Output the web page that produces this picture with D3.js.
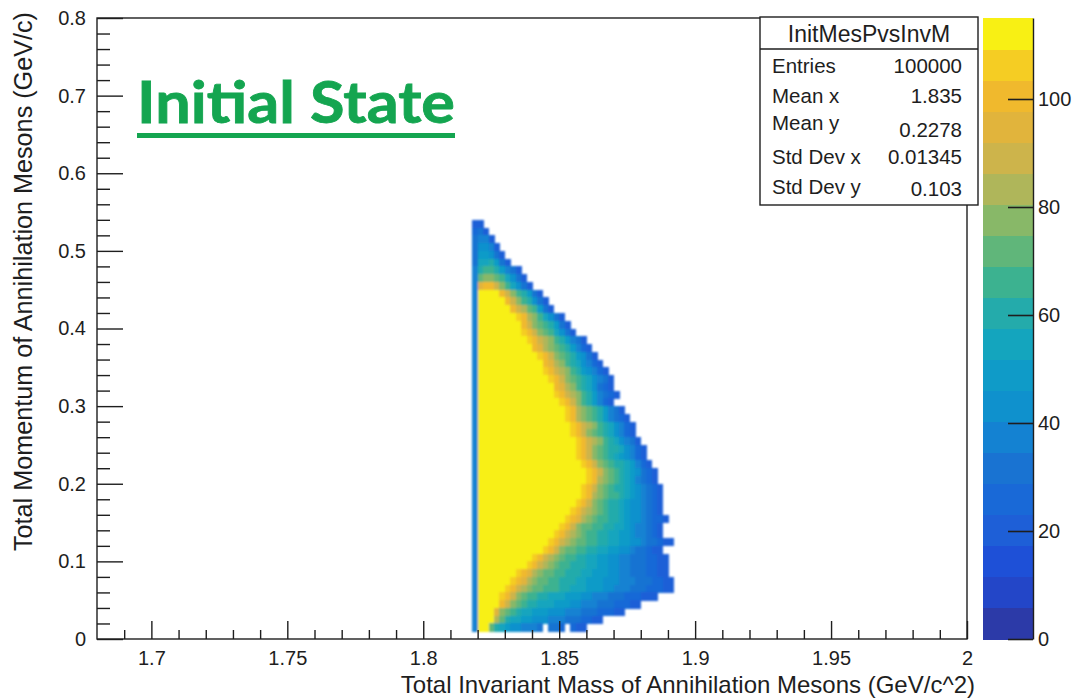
<!DOCTYPE html>
<html>
<head>
<meta charset="utf-8">
<script src="https://cdn.jsdelivr.net/npm/d3@7"></script>
<style>
  html, body { margin: 0; padding: 0; background: #fff; }
  svg { display: block; font-family: "Liberation Sans", Arial, sans-serif; }
</style>
</head>
<body>
<svg id="chart" width="1078" height="700"></svg>
<script>
// axis ranges and ticks
const xDomain = [1.68, 2.0];
const yDomain = [0, 0.8];
const xMajorTicks = [1.7, 1.75, 1.8, 1.85, 1.9, 1.95, 2.0];
const xTickLabels = ["1.7", "1.75", "1.8", "1.85", "1.9", "1.95", "2"];
const xMinorTicks = [1.69, 1.71, 1.72, 1.73, 1.74, 1.76, 1.77, 1.78, 1.79, 1.81, 1.82, 1.83, 1.84,
  1.86, 1.87, 1.88, 1.89, 1.91, 1.92, 1.93, 1.94, 1.96, 1.97, 1.98, 1.99];
const yMajorTicks = [0, 0.1, 0.2, 0.3, 0.4, 0.5, 0.6, 0.7, 0.8];
const yTickLabels = ["0", "0.1", "0.2", "0.3", "0.4", "0.5", "0.6", "0.7", "0.8"];
const yMinorTicks = [0.02, 0.04, 0.06, 0.08, 0.12, 0.14, 0.16, 0.18, 0.22, 0.24, 0.26, 0.28,
  0.32, 0.34, 0.36, 0.38, 0.42, 0.44, 0.46, 0.48, 0.52, 0.54, 0.56, 0.58,
  0.62, 0.64, 0.66, 0.68, 0.72, 0.74, 0.76, 0.78];
const zMax = 115;
const zTicks = [0, 20, 40, 60, 80, 100];

// 20 colour levels (bottom -> top of the palette)
const birdColors = ["#2c3aa8", "#2346c8", "#1e50d7", "#1e5fd7", "#1969d7", "#1973d2", "#1482d2",
  "#0f91cd", "#0f9bc8", "#14a5be", "#24abab", "#3cb290", "#60b67a", "#88b868", "#afb65a",
  "#cdb44b", "#e1b43c", "#f0b92d", "#f5cd23", "#f8f014"];

// histogram bins
const xBinStart = 1.818;
const xBinWidth = 0.002;
const yBinWidth = 0.01;

// level of each bin (0-9, a-j = level 0..19, "." empty), "c*N" repeats c N times.
// rows go from the top (0.53-0.54 GeV/c) down to the bottom (0-0.01 GeV/c)
const cellRows = [
  "33",
  "453",
  "5663",
  "57763",
  "588753",
  "599a853",
  "6abba8653",
  "6cddcb9753",
  "6ghhfdb9753",
  "6j*4hfdba853",
  "6j*5hfdba753",
  "6j*6hfecb853",
  "6j*7ihedb9753",
  "6j*8hfdcba853",
  "6j*8ihfdcb9753",
  "6j*9ihfedba8653",
  "6j*10hgedcba8643",
  "6j*11ihfdcba8753",
  "6j*12hgedba97643",
  "6j*12ihfedba87643",
  "6j*13ihfdcba97653",
  "6j*14hgedba97543",
  "6j*14ihfedba86543",
  "6j*15ihfdba8643",
  "6j*16ihedcba8653",
  "6j*16ihedcba86543",
  "6j*17ihfedba97643",
  "6j*17ihfdcba97643",
  "6j*18ihfedba97653",
  "6j*18ihfdcbaa97643",
  "6j*18ihfdcba987643",
  "6j*19ihfdcbaa98643",
  "6j*20ihfdcba987543",
  "6j*20ihedcba986543",
  "6j*19ihfdcbaa9876543",
  "6j*19ihedcbba9876543",
  "6j*18ihfdcbaa98776543",
  "6j*17ihfedcbaa98776543",
  "6j*16ihgedcbbaa987765443",
  "6j*15ihfdccbbaa998766543",
  "6j*14ihfedcbbaa9988766543",
  "6j*13ihfedccbbaa998877655433",
  "6j*12ihfdccbbaa998877655433",
  "6j*10ihfedcbbaa998877665554433",
  "6j*9ihfedcbbaaa998877665554433",
  "6j*7ihgedccbbaaa9988877665554433",
  "6j*6ihgedccbbaaa998887776665554433",
  "6j*5ihfedccbbbaa9998887766655544433",
  "6j*4ihfdcbbaa99988877666555444333",
  "6j*4hfdcbaa9998887766655544433",
  "6j*3gdcba9988877766655544433",
  "6j*3eca99887776665554433",
  "6j*2ca98776665.554.433",
  ""
];

const histName = "InitMesPvsInvM";
const statLabels = ["Entries", "Mean x", "Mean y", "Std Dev x", "Std Dev y"];
const statValues = ["100000", "1.835", "0.2278", "0.01345", "0.103"];

const xTitle = "Total Invariant Mass of Annihilation Mesons (GeV/c^2)";
const yTitle = "Total Momentum of Annihilation Mesons (GeV/c)";
const overlayText = "Initial State";

// ---------------------------------------------------------------
const svg = d3.select("#chart");
const frame = { left: 97, right: 967, top: 18, bottom: 639 };
const ink = "#1e1e1e";

const x = d3.scaleLinear().domain(xDomain).range([frame.left, frame.right]);
const y = d3.scaleLinear().domain(yDomain).range([frame.bottom, frame.top]);
const zScale = d3.scaleLinear().domain([0, zMax]).range([frame.bottom, frame.top]);
const zColor = d3.scaleQuantize().domain([0, zMax]).range(birdColors);

function decodeRow(s) {
  const out = [];
  for (let k = 0; k < s.length; k++) {
    const c = s[k];
    if (s[k + 1] === "*") {
      let m = k + 2, num = "";
      while (m < s.length && /[0-9]/.test(s[m])) num += s[m++];
      for (let r = 0; r < +num; r++) out.push(c);
      k = m - 1;
    } else {
      out.push(c);
    }
  }
  return out;
}

const cells = [];
cellRows.forEach((row, k) => {
  const j = cellRows.length - 1 - k;
  decodeRow(row).forEach((c, i) => {
    if (c === ".") return;
    const level = parseInt(c, 36);
    cells.push({
      x0: xBinStart + i * xBinWidth,
      y0: j * yBinWidth,
      z: (level + 0.5) * zMax / birdColors.length
    });
  });
});

// soften the bins a little, the reference is a slightly blurred screenshot
svg.append("defs").append("filter")
  .attr("id", "soft")
  .append("feGaussianBlur")
  .attr("stdDeviation", 0.8);

svg.append("g").attr("class", "cells")
  .attr("filter", "url(#soft)")
  .attr("shape-rendering", "crispEdges")
  .selectAll("rect")
  .data(cells)
  .enter()
  .append("rect")
  .attr("x", (d) => x(d.x0))
  .attr("y", (d) => y(d.y0 + yBinWidth))
  .attr("width", (d) => x(d.x0 + xBinWidth) - x(d.x0) + 0.6)
  .attr("height", (d) => y(d.y0) - y(d.y0 + yBinWidth) + 0.6)
  .attr("fill", (d) => zColor(d.z));

// axes (ticks point inwards like ROOT)
function styleAxis(g) {
  g.select(".domain").remove();
  g.selectAll(".tick line").attr("stroke", ink).attr("stroke-width", 1.4);
  g.selectAll(".tick text").attr("fill", ink).style("font-size", "20px");
}

svg.append("g")
  .attr("transform", `translate(0,${frame.bottom})`)
  .call(d3.axisBottom(x).tickValues(xMinorTicks).tickFormat("").tickSizeInner(-9).tickSizeOuter(0))
  .call(styleAxis);

svg.append("g")
  .attr("transform", `translate(0,${frame.bottom})`)
  .call(d3.axisBottom(x).tickValues(xMajorTicks).tickFormat((d, i) => xTickLabels[i])
    .tickSizeInner(-18).tickSizeOuter(0).tickPadding(12))
  .call(styleAxis);

svg.append("g")
  .attr("transform", `translate(${frame.left},0)`)
  .call(d3.axisLeft(y).tickValues(yMinorTicks).tickFormat("").tickSizeInner(-13).tickSizeOuter(0))
  .call(styleAxis);

svg.append("g")
  .attr("transform", `translate(${frame.left},0)`)
  .call(d3.axisLeft(y).tickValues(yMajorTicks).tickFormat((d, i) => yTickLabels[i])
    .tickSizeInner(-26).tickSizeOuter(0).tickPadding(11))
  .call(styleAxis);

svg.append("rect")
  .attr("x", frame.left)
  .attr("y", frame.top)
  .attr("width", frame.right - frame.left)
  .attr("height", frame.bottom - frame.top)
  .attr("fill", "none")
  .attr("stroke", ink)
  .attr("stroke-width", 1.4);

// axis titles
svg.append("text")
  .attr("x", 975)
  .attr("y", 693)
  .attr("text-anchor", "end")
  .attr("fill", ink)
  .style("font-size", "24px")
  .text(xTitle);

svg.append("text")
  .attr("transform", "translate(32,12) rotate(-90)")
  .attr("text-anchor", "end")
  .attr("fill", ink)
  .style("font-size", "25.2px")
  .text(yTitle);

// colour bar
const bar = { left: 983, right: 1033 };
const levelEdges = d3.range(birdColors.length + 1).map((k) => k * zMax / birdColors.length);

svg.append("g").attr("shape-rendering", "crispEdges")
  .selectAll("rect")
  .data(birdColors)
  .enter()
  .append("rect")
  .attr("x", bar.left)
  .attr("y", (d, k) => zScale(levelEdges[k + 1]))
  .attr("width", bar.right - bar.left)
  .attr("height", (d, k) => zScale(levelEdges[k]) - zScale(levelEdges[k + 1]) + 0.5)
  .attr("fill", (d) => d);

svg.append("g")
  .attr("transform", `translate(${bar.right},0)`)
  .call(d3.axisRight(zScale).tickValues(zTicks).tickSizeInner(-25).tickSizeOuter(0).tickPadding(5))
  .call((g) => {
    g.select(".domain").attr("stroke", ink).attr("stroke-width", 1.4);
    g.selectAll(".tick line").attr("stroke", ink).attr("stroke-width", 1.6);
    g.selectAll(".tick text").attr("fill", ink).style("font-size", "20px");
  });

// stats box
const stats = svg.append("g");
stats.append("rect")
  .attr("x", 760).attr("y", 17)
  .attr("width", 218).attr("height", 188)
  .attr("fill", "#fff")
  .attr("stroke", ink)
  .attr("stroke-width", 1.4);
stats.append("line")
  .attr("x1", 760).attr("x2", 978)
  .attr("y1", 49).attr("y2", 49)
  .attr("stroke", ink)
  .attr("stroke-width", 1.4);
stats.append("text")
  .attr("x", 869).attr("y", 42)
  .attr("text-anchor", "middle")
  .attr("fill", ink)
  .style("font-size", "23px")
  .text(histName);

const rowBase = [73, 103, 130, 164, 194];
const valueBase = [73, 103, 137, 164, 196];
stats.selectAll("text.lab")
  .data(statLabels)
  .enter()
  .append("text")
  .attr("class", "lab")
  .attr("x", 772)
  .attr("y", (d, i) => rowBase[i])
  .attr("fill", ink)
  .style("font-size", "20.5px")
  .text((d) => d);
stats.selectAll("text.val")
  .data(statValues)
  .enter()
  .append("text")
  .attr("class", "val")
  .attr("x", 962)
  .attr("y", (d, i) => valueBase[i])
  .attr("text-anchor", "end")
  .attr("fill", ink)
  .style("font-size", "20.5px")
  .text((d) => d);

// "Initial State" overlay
const green = "#14a550";
svg.append("text")
  .attr("x", 137)
  .attr("y", 123)
  .attr("textLength", 318)
  .attr("lengthAdjust", "spacingAndGlyphs")
  .attr("fill", green)
  .attr("stroke", green)
  .attr("stroke-width", 0.8)
  .style("font-family", "Lato, 'Open Sans', sans-serif")
  .style("font-weight", "bold")
  .style("font-size", "57px")
  .text(overlayText);
svg.append("rect")
  .attr("x", 137).attr("y", 133)
  .attr("width", 318).attr("height", 5)
  .attr("fill", green);
</script>
</body>
</html>
